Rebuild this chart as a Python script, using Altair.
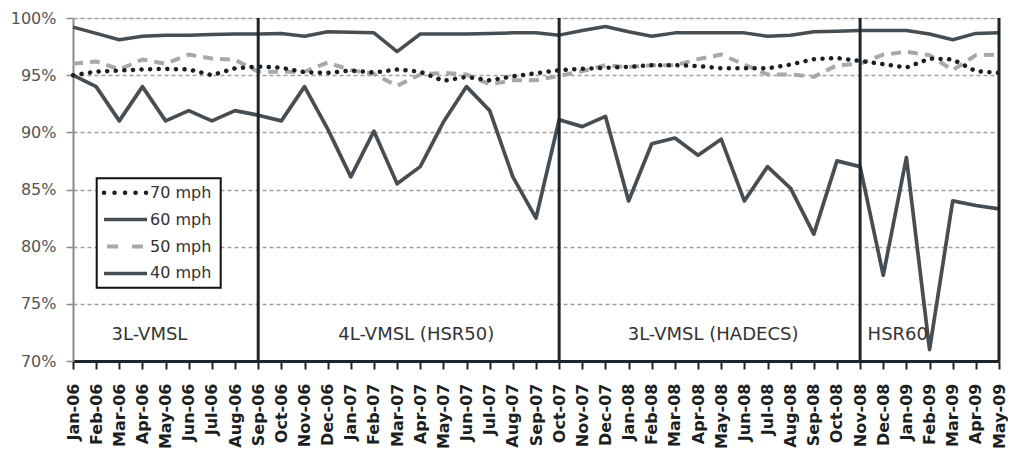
import altair as alt
import pandas as pd

# ---------------- data ----------------
months = [
    "Jan-06", "Feb-06", "Mar-06", "Apr-06", "May-06", "Jun-06", "Jul-06", "Aug-06",
    "Sep-06", "Oct-06", "Nov-06", "Dec-06",
    "Jan-07", "Feb-07", "Mar-07", "Apr-07", "May-07", "Jun-07", "Jul-07", "Aug-07",
    "Sep-07", "Oct-07", "Nov-07", "Dec-07",
    "Jan-08", "Feb-08", "Mar-08", "Apr-08", "May-08", "Jun-08", "Jul-08", "Aug-08",
    "Sep-08", "Oct-08", "Nov-08", "Dec-08",
    "Jan-09", "Feb-09", "Mar-09", "Apr-09", "May-09",
]

series_names = ["70 mph", "60 mph", "50 mph", "40 mph"]

s70 = [95.0, 95.3, 95.4, 95.5, 95.55, 95.5, 95.0, 95.6, 95.75, 95.65, 95.26, 95.2,
       95.4, 95.23, 95.5, 95.3, 94.5, 94.85, 94.55, 94.9, 95.17, 95.44, 95.55, 95.64,
       95.73, 95.87, 95.87, 95.8, 95.6, 95.6, 95.6, 95.93, 96.4, 96.5, 96.25, 95.96,
       95.67, 96.45, 96.37, 95.35, 95.2]

s60 = [99.2, 98.65, 98.1, 98.4, 98.5, 98.5, 98.55, 98.6, 98.6, 98.65, 98.4, 98.8,
       98.75, 98.7, 97.05, 98.6, 98.6, 98.6, 98.65, 98.7, 98.7, 98.5, 98.9, 99.25,
       98.8, 98.4, 98.7, 98.7, 98.7, 98.7, 98.4, 98.5, 98.8, 98.85, 98.9, 98.9,
       98.9, 98.6, 98.1, 98.65, 98.7]

s50 = [96.0, 96.2, 95.5, 96.37, 96.0, 96.8, 96.45, 96.35, 95.3, 95.3, 95.3, 96.1,
       95.44, 95.1, 94.07, 95.06, 95.2, 95.06, 94.2, 94.55, 94.56, 94.94, 95.35, 95.87,
       95.7, 95.87, 95.87, 96.4, 96.8, 95.93, 95.06, 95.06, 94.85, 95.87, 96.0, 96.8,
       97.04, 96.75, 95.44, 96.75, 96.8]

s40 = [95.0, 94.0, 91.0, 94.0, 91.0, 91.9, 91.0, 91.9, 91.5, 91.0, 94.0, 90.3,
       86.1, 90.1, 85.5, 87.0, 90.9, 94.0, 91.9, 86.1, 82.5, 91.1, 90.5, 91.4,
       84.0, 89.0, 89.5, 88.0, 89.4, 84.0, 87.0, 85.1, 81.1, 87.5, 87.0, 77.5,
       87.8, 71.0, 84.0, 83.6, 83.3]

separator_months = ["Sep-06", "Oct-07", "Nov-08", "May-09"]
segment_labels = ["3L-VMSL", "4L-VMSL (HSR50)", "3L-VMSL (HADECS)", "HSR60"]
segment_anchor = ["Apr-06", "Apr-07", "Apr-08", "Nov-08"]
y_ticks = [70, 75, 80, 85, 90, 95, 100]

df = pd.DataFrame({"month": months, "70 mph": s70, "60 mph": s60,
                   "50 mph": s50, "40 mph": s40})
long_df = df.melt("month", var_name="series", value_name="value")

# ---------------- styling ----------------
FONT = "DejaVu Sans"
W, H = 926, 343
DARK = "#1c252b"

styles = {
    "70 mph": dict(color="#1a2026", strokeWidth=4.5, strokeDash=[0.1, 8.5], strokeCap="round"),
    "60 mph": dict(color="#474e53", strokeWidth=3.5),
    "50 mph": dict(color="#a8a8a8", strokeWidth=4, strokeDash=[10, 7]),
    "40 mph": dict(color="#474e53", strokeWidth=3.7),
}
legend_styles = {
    "70 mph": dict(color="#1a2026", strokeWidth=4.5, strokeDash=[0.1, 10.4], strokeCap="round"),
    "60 mph": dict(color="#474e53", strokeWidth=3.5),
    "50 mph": dict(color="#a8a8a8", strokeWidth=4, strokeDash=[11, 14]),
    "40 mph": dict(color="#474e53", strokeWidth=3.5),
}
legend_x = {"70 mph": (31, 73), "60 mph": (31, 74), "50 mph": (34, 70), "40 mph": (31, 74)}

x_enc = alt.X(
    "month:N",
    sort=months,
    scale=alt.Scale(type="point", padding=0, domain=months),
    axis=alt.Axis(
        title=None, labelAngle=-90, labelFont=FONT, labelFontSize=16,
        labelFontWeight="bold", labelColor="#1c1f22", labelPadding=14,
        labelOverlap=False, labelBound=False, tickSize=8, tickColor=DARK, tickWidth=2,
        domainColor=DARK, domainWidth=3, grid=False,
    ),
)

y_enc = alt.Y(
    "value:Q",
    scale=alt.Scale(domain=[70, 100], nice=False, zero=False),
    axis=alt.Axis(
        title=None, values=y_ticks, labelExpr="datum.value + '%'",
        labelFont=FONT, labelFontSize=16, labelColor="#555555", labelPadding=10,
        tickSize=7, tickColor="#8a8a8a", tickWidth=1.5,
        domainColor="#8a8a8a", domainWidth=2,
        grid=True, gridDash=[4, 3], gridColor="#a0a0a0", gridWidth=1.5,
    ),
)

layers = []

# series lines
for name in ["50 mph", "60 mph", "40 mph", "70 mph"]:
    layers.append(
        alt.Chart(long_df)
        .transform_filter(alt.datum.series == name)
        .mark_line(strokeJoin="round", **styles[name])
        .encode(x=x_enc, y=y_enc)
    )

# period separators
layers.append(
    alt.Chart(pd.DataFrame({"month": separator_months}))
    .mark_rule(color=DARK, strokeWidth=3)
    .encode(x=x_enc)
)

# period labels
seg_dx = [7, -4, 15, 7.5]
seg_align = ["center", "center", "center", "left"]
for lab, anc, dx, al in zip(segment_labels, segment_anchor, seg_dx, seg_align):
    layers.append(
        alt.Chart(pd.DataFrame({"month": [anc], "label": [lab]}))
        .mark_text(font=FONT, fontSize=18, color="#333333", align=al,
                   baseline="middle", dx=dx)
        .encode(x=x_enc, y=alt.value(317), text="label:N")
    )

# legend box
layers.append(
    alt.Chart(pd.DataFrame({"a": [0]}))
    .mark_rect(fill="white", stroke="#111111", strokeWidth=2)
    .encode(x=alt.value(23.7), x2=alt.value(147.7), y=alt.value(160.3), y2=alt.value(269.7))
)

# legend entries
for i, name in enumerate(series_names):
    yy = 174.7 + i * 26.9
    x1, x2 = legend_x[name]
    ldf = pd.DataFrame({"series": [name]})
    layers.append(
        alt.Chart(ldf)
        .mark_rule(**legend_styles[name])
        .encode(x=alt.value(x1), x2=alt.value(x2), y=alt.value(yy))
    )
    layers.append(
        alt.Chart(ldf)
        .mark_text(font=FONT, fontSize=16, color="#333333", align="left", baseline="middle")
        .encode(x=alt.value(77), y=alt.value(yy), text="series:N")
    )

chart = (
    alt.layer(*layers)
    .properties(
        width=W, height=H,
        padding={"left": 65, "top": 10, "right": 9, "bottom": 88},
        autosize=alt.AutoSizeParams(type="none"),
    )
    .configure_view(stroke=None)
    .configure(background="white")
)

chart.save("out.html", embed_options={"renderer": "svg", "actions": False})
